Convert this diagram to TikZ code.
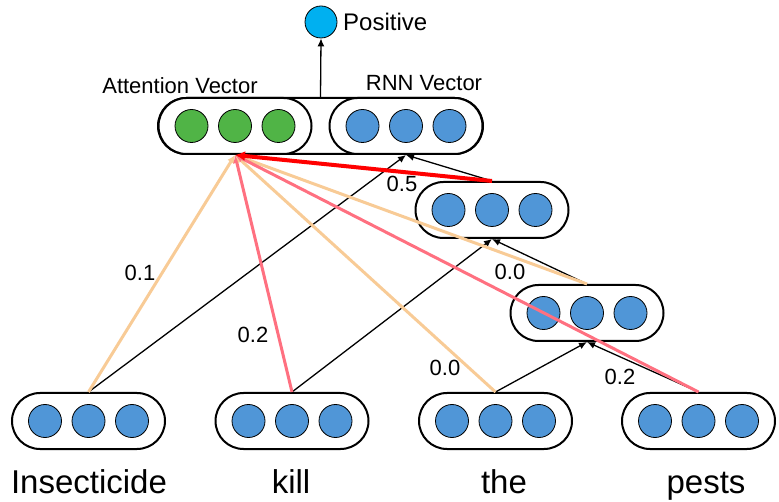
\documentclass[tikz,border=0pt]{standalone}
\usepackage{fontspec}
\setmainfont{Liberation Sans}
\usepackage{xcolor}
\usepackage{tikz}
\usetikzlibrary{arrows.meta}
\definecolor{Cell-Blue}{RGB}{ 80, 150, 215}
\definecolor{Cell-Green}{RGB}{ 80, 180,  70}
\definecolor{Out-Blue}{RGB}{  0, 176, 240}
\definecolor{Att-Peach}{RGB}{248, 203, 150}
\definecolor{Att-Pink}{RGB}{255, 112, 128}
\definecolor{Att-Red}{RGB}{255,   0,   0}
\tikzset{vec/.style={rectangle,draw=black,line width=2pt,rounded corners=28pt,fill=white,
    minimum width=153pt,minimum height=56pt,inner sep=0pt,
    path picture={\foreach \dx in {-43.5,0,43.5}
      \draw[line width=0.8pt,fill=#1] ([xshift=\dx pt]path picture bounding box.center) circle (16.5pt);}},
  vec/.default=Cell-Blue}
\tikzstyle{rnn}=[draw=black,line width=1.3pt,arrows={-{Latex[length=8pt,width=7pt]}}]
\tikzstyle{att}=[line width=3pt,arrows={-{Latex[length=8pt,width=8pt]}}]
\tikzstyle{att-max}=[att,draw=Att-Red,line width=4pt,arrows={-{Latex[length=10pt,width=10pt]}}]
\tikzstyle{word}=[font=\fontsize{33}{37}\selectfont,anchor=base,inner sep=0pt]
\tikzstyle{score}=[font=\fontsize{22}{26}\selectfont,inner sep=1pt]
\tikzstyle{caption}=[font=\fontsize{22}{26}\selectfont,inner sep=1pt]

\begin{document}
\begin{tikzpicture}[x=1pt,y=-1pt]
\useasboundingbox (0,0) rectangle (779,502);

% Nodes
\node[vec]                 (insecticide vec)    at (88.5,421) {};
\node[vec]                 (kill vec)           at (292,421)  {};
\node[vec]                 (the vec)            at (495.5,421) {};
\node[vec]                 (pests vec)          at (698.5,421) {};
\node[vec]                 (the pests vec)      at (587,313)  {};
\node[vec]                 (kill the pests vec) at (492,210)  {};
\node[vec,minimum width=325pt,path picture={}] (concat) at (320.5,126) {};
\node[vec=Cell-Green]      (attention)          at (235,126)  {};
\node[vec]                 (rnn)                at (406,126)  {};
\node[circle,draw=black,line width=0.8pt,fill=Out-Blue,minimum size=32pt,inner sep=0pt] (positive) at (321,22) {};

% Texts
\node[word]                (insecticide)        at (89,493)   {Insecticide};
\node[word]                (kill)               at (291,493)  {kill};
\node[word]                (the)                at (504,493)  {the};
\node[word]                (pests)              at (706,493)  {pests};
\node[caption]             (attention label)    at (180,86)   {Attention Vector};
\node[caption]             (rnn label)          at (424,83)   {RNN Vector};
\node[caption,anchor=west,font=\fontsize{24}{28}\selectfont] (positive label) at (342,22) {Positive};

% Edges
\draw (insecticide vec.north)    edge[rnn]                 (rnn.south)
      (kill vec.north)           edge[rnn]                 (kill the pests vec.south)
      (the vec.north)            edge[rnn]                 (the pests vec.south)
      (pests vec.north)          edge[rnn]                 (the pests vec.south)
      (the pests vec.north)      edge[rnn]                 (kill the pests vec.south)
      (kill the pests vec.north) edge[rnn]                 (rnn.south)
      (concat.north)             edge[rnn]                 (positive.south)
      (insecticide vec.north)    edge[att,draw=Att-Peach]  (attention.south)
      (kill vec.north)           edge[att,draw=Att-Pink]   (attention.south)
      (the vec.north)            edge[att,draw=Att-Peach]  (attention.south)
      (the pests vec.north)      edge[att,draw=Att-Peach]  (attention.south)
      (pests vec.north)          edge[att,draw=Att-Pink]   (attention.south)
      (kill the pests vec.north) edge[att-max]             (attention.south);

% Attention weights
\node[score] (score insecticide)    at (140,273) {0.1};
\node[score] (score kill)           at (253,335) {0.2};
\node[score] (score the)            at (445,368) {0.0};
\node[score] (score pests)          at (620,377) {0.2};
\node[score] (score the pests)      at (510,272) {0.0};
\node[score] (score kill the pests) at (402,184) {0.5};

\end{tikzpicture}
\end{document}
